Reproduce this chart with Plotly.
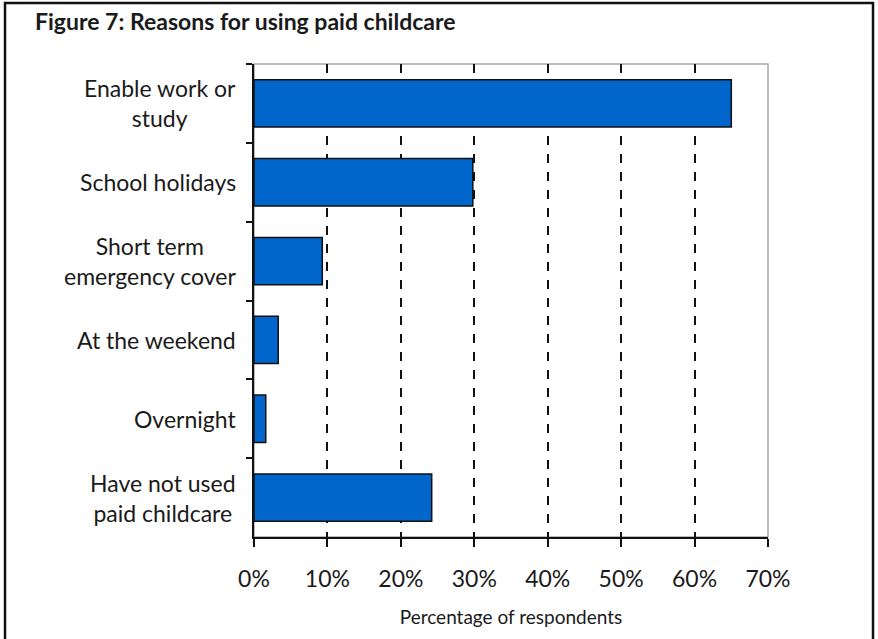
import plotly.graph_objects as go

# Categories (top to bottom) and share of respondents (%)
reasons = [
    "Enable work or<br>study",
    "School holidays",
    "Short term<br>emergency cover",
    "At the weekend",
    "Overnight",
    "Have not used<br>paid childcare",
]
share_pct = [65.0, 29.8, 9.3, 3.3, 1.6, 24.2]

x_ticks = [0, 10, 20, 30, 40, 50, 60, 70]
x_tick_labels = ["0%", "10%", "20%", "30%", "40%", "50%", "60%", "70%"]

TEXT = "#1a1a1a"
FONT = "Lato, 'Open Sans', sans-serif"

fig = go.Figure()

fig.add_trace(go.Bar(
    x=share_pct,
    y=reasons,
    orientation="h",
    marker=dict(color="#0066CC", line=dict(color="#111111", width=1.5)),
    showlegend=False,
    hoverinfo="x+y",
))

# category labels, centred multi-line like the original
for r in reasons:
    fig.add_annotation(
        x=-16 / 514, xref="paper", xanchor="right",
        y=r, yref="y", yanchor="middle",
        text=r, align="center", showarrow=False,
        font=dict(family=FONT, size=23, color=TEXT),
    )

# gray frame around plot area (top/right visible)
fig.add_shape(type="rect", xref="paper", yref="paper", x0=0, y0=0, x1=1, y1=1,
              line=dict(color="#a6a6a6", width=1.5), layer="below")

# outer picture border
fig.add_shape(type="rect", xref="paper", yref="paper",
              x0=-0.4844, x1=1.2043, y0=-0.3, y1=1.129,
              line=dict(color="#111111", width=2.5), layer="above")

fig.update_layout(
    width=878,
    height=639,
    margin=dict(l=254, r=110, t=64, b=102),
    paper_bgcolor="white",
    plot_bgcolor="white",
    bargap=0.4,
    font=dict(family=FONT, color=TEXT, size=23),
    title=dict(
        text="<b>Figure 7: Reasons for using paid childcare</b>",
        x=35 / 878, xanchor="left",
        y=1 - 22 / 639, yanchor="middle",
        font=dict(family=FONT, size=23, color=TEXT),
    ),
    xaxis=dict(
        range=[0, 70],
        tickvals=x_ticks,
        ticktext=x_tick_labels,
        ticks="outside",
        ticklen=8,
        tickwidth=1.5,
        tickcolor="#111111",
        ticklabelstandoff=13,
        showline=True,
        linecolor="#111111",
        linewidth=1.5,
        showgrid=True,
        gridcolor="#111111",
        gridwidth=1.5,
        griddash="dash",
        zeroline=False,
        tickfont=dict(size=23, color=TEXT),
        title=dict(text="Percentage of respondents",
                   font=dict(size=19, color=TEXT), standoff=19),
        fixedrange=True,
    ),
    yaxis=dict(
        autorange="reversed",
        tickson="boundaries",
        ticks="outside",
        ticklen=6,
        tickwidth=1.5,
        tickcolor="#111111",
        showticklabels=False,
        showline=True,
        linecolor="#111111",
        linewidth=1.5,
        showgrid=False,
        zeroline=False,
        fixedrange=True,
    ),
)

fig.write_html("out.html", config={"displayModeBar": False},
               post_script="document.body.style.margin='0';")
